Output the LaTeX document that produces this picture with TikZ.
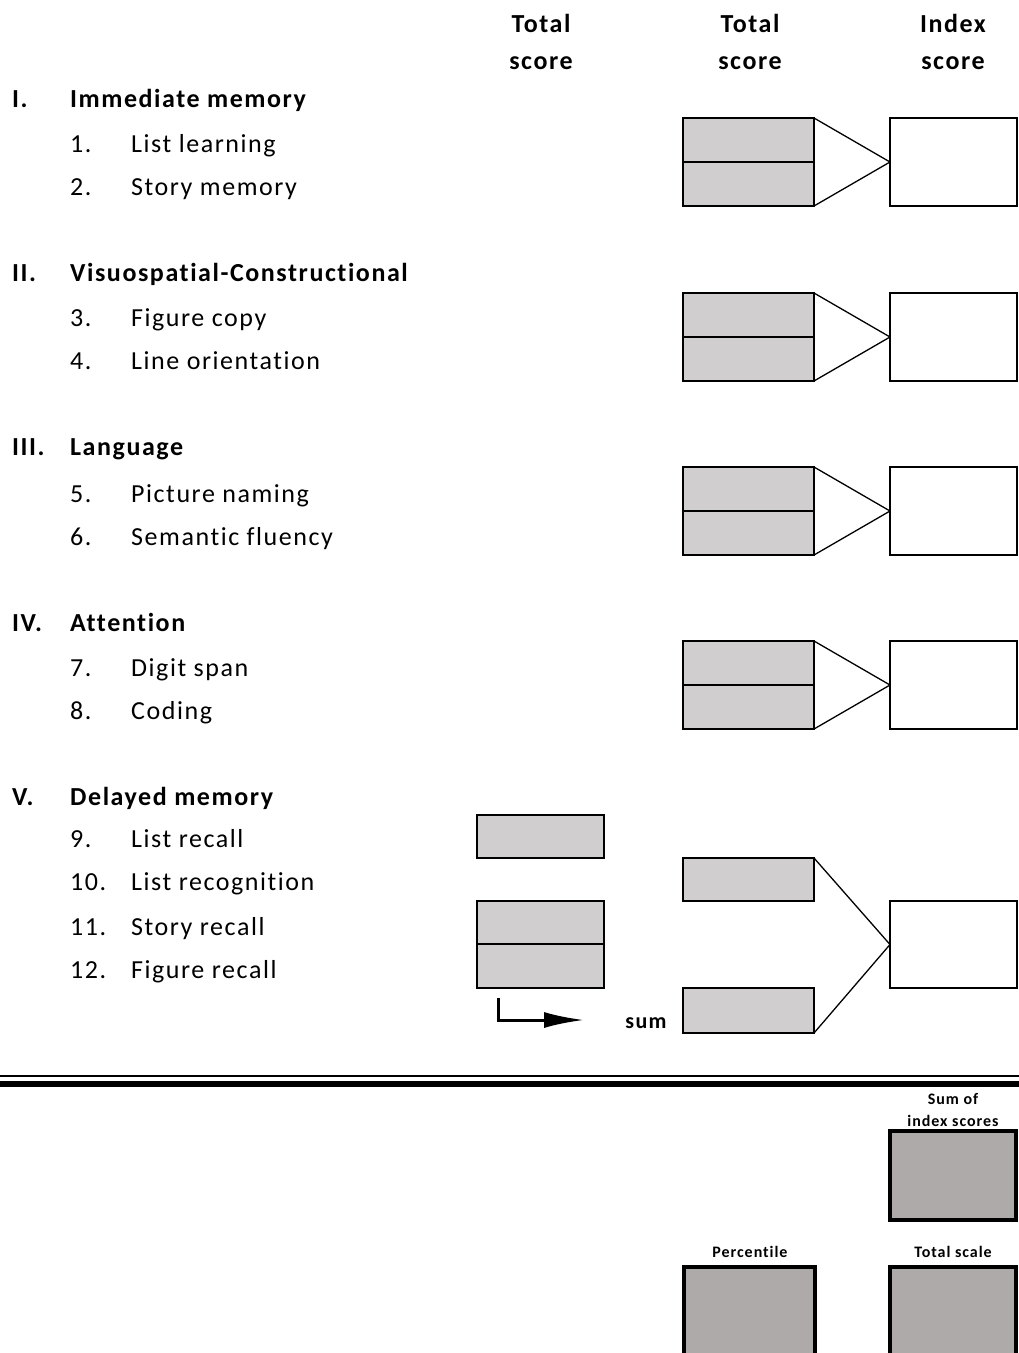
\documentclass[tikz,border=0pt]{standalone}
\usepackage{fontspec}
\setmainfont{Carlito}[LetterSpace=6,Ligatures=NoCommon]
\usetikzlibrary{arrows.meta}
\definecolor{scoregray}{HTML}{D0CECE}
\definecolor{resultgray}{HTML}{AEAAAA}
\tikzset{
  itemtext/.style={anchor=base west, inner sep=0pt, font=\fontsize{26}{30}\selectfont},
  headtext/.style={itemtext, font=\fontsize{26}{30}\selectfont\bfseries},
  colhead/.style={anchor=base, inner sep=0pt, font=\fontsize{26}{30}\selectfont\bfseries},
  smalltext/.style={anchor=base, inner sep=0pt, font=\fontsize{16}{18}\selectfont\bfseries},
  scorebox/.style={draw, line width=1.6pt, fill=scoregray, minimum width=131pt, minimum height=44pt, inner sep=0pt, outer sep=0pt, anchor=north west},
  indexbox/.style={draw, line width=1.6pt, fill=white, minimum width=127pt, minimum height=88pt, inner sep=0pt, outer sep=0pt, anchor=north west},
  resultbox/.style={draw, line width=4pt, fill=resultgray, minimum width=126pt, minimum height=89pt, inner sep=0pt, outer sep=0pt, anchor=north west},
  link/.style={line width=1.3pt}
}
\begin{document}
\begin{tikzpicture}[x=1pt,y=-1pt]
    \clip (0,0) rectangle (1019,1353);
    % column heads
    \node[colhead] (h1) at (541,32) {Total};
    \node[colhead] (h1b) at (541,69) {score};
    \node[colhead] (h2) at (750,32) {Total};
    \node[colhead] (h2b) at (750,69) {score};
    \node[colhead] (h3) at (953,32) {Index};
    \node[colhead] (h3b) at (953,69) {score};
    % sections
    \node[headtext] (r1) at (12,107) {I.};
    \node[headtext] (s1) at (70,107) {Immediate memory};
    \node[itemtext] (n1) at (70,152) {1.};
    \node[itemtext] (t1) at (131,152) {List learning};
    \node[itemtext] (n2) at (70,195) {2.};
    \node[itemtext] (t2) at (131,195) {Story memory};
    \node[headtext] (r2) at (12,281) {II.};
    \node[headtext] (s2) at (70,281) {Visuospatial-Constructional};
    \node[itemtext] (n3) at (70,326) {3.};
    \node[itemtext] (t3) at (131,326) {Figure copy};
    \node[itemtext] (n4) at (70,369) {4.};
    \node[itemtext] (t4) at (131,369) {Line orientation};
    \node[headtext] (r3) at (12,455) {III.};
    \node[headtext] (s3) at (70,455) {Language};
    \node[itemtext] (n5) at (70,502) {5.};
    \node[itemtext] (t5) at (131,502) {Picture naming};
    \node[itemtext] (n6) at (70,545) {6.};
    \node[itemtext] (t6) at (131,545) {Semantic fluency};
    \node[headtext] (r4) at (12,631) {IV.};
    \node[headtext] (s4) at (70,631) {Attention};
    \node[itemtext] (n7) at (70,676) {7.};
    \node[itemtext] (t7) at (131,676) {Digit span};
    \node[itemtext] (n8) at (70,719) {8.};
    \node[itemtext] (t8) at (131,719) {Coding};
    \node[headtext] (r5) at (12,805) {V.};
    \node[headtext] (s5) at (70,805) {Delayed memory};
    \node[itemtext] (n9) at (70,847) {9.};
    \node[itemtext] (t9) at (131,847) {List recall};
    \node[itemtext] (n10) at (70,890) {10.};
    \node[itemtext] (t10) at (131,890) {List recognition};
    \node[itemtext] (n11) at (70,935) {11.};
    \node[itemtext] (t11) at (131,935) {Story recall};
    \node[itemtext] (n12) at (70,978) {12.};
    \node[itemtext] (t12) at (131,978) {Figure recall};
    % score pairs and index boxes
    \foreach \i/\y in {1/118,2/293,3/467,4/641}{
        \node[scorebox] (a\i) at (683,\y) {};
        \node[scorebox] (b\i) at (683,\y+44) {};
        \node[indexbox] (x\i) at (890,\y) {};
        \draw[link] (a\i.north east) -- (x\i.west);
        \draw[link] (b\i.south east) -- (x\i.west);
    }
    % delayed memory
    \node[scorebox, minimum width=127pt, minimum height=43pt] (lr) at (477,815) {};
    \node[scorebox, minimum width=127pt, minimum height=43pt] (sr) at (477,901) {};
    \node[scorebox, minimum width=127pt, minimum height=44pt] (fr) at (477,944) {};
    \node[scorebox, minimum height=43pt] (a5) at (683,858) {};
    \node[scorebox, minimum height=45pt] (b5) at (683,988) {};
    \node[indexbox, minimum height=87pt] (x5) at (890,901) {};
    \draw[link] (a5.north east) -- (x5.west);
    \draw[link] (b5.south east) -- (x5.west);
    \coordinate (sumstart) at (498,998);
    \coordinate (sumend) at (584,1020);
    \draw[line width=3pt, -{Latex[length=40pt,width=16pt]}] (sumstart) |- (sumend);
    \node[anchor=base, inner sep=0pt, font=\fontsize{22}{25}\selectfont\bfseries] (sum) at (646,1028) {sum};
    % double rule
    \draw[line width=2pt] (0,1076) -- (1019,1076);
    \draw[line width=6pt] (0,1083.5) -- (1019,1083.5);
    % results
    \node[smalltext] (so) at (953,1104) {Sum of};
    \node[smalltext] (is) at (953,1126) {index scores};
    \node[resultbox] (sumidx) at (890,1131) {};
    \node[smalltext] (pc) at (750,1257) {Percentile};
    \node[resultbox, minimum width=131pt, minimum height=110pt] (perc) at (684,1267) {};
    \node[smalltext] (ts) at (953,1257) {Total scale};
    \node[resultbox, minimum height=110pt] (total) at (890,1267) {};
\end{tikzpicture}
\end{document}
